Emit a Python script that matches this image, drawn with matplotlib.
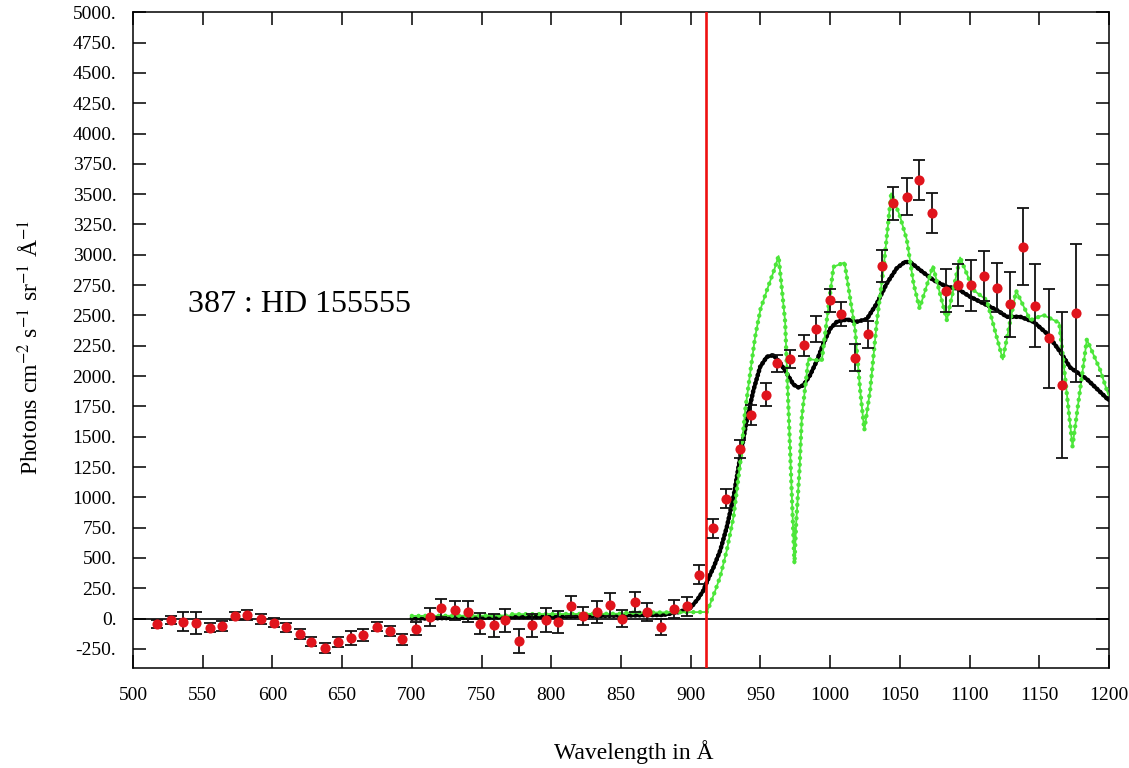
import numpy as np
import matplotlib
matplotlib.use("Agg")
import matplotlib.pyplot as plt
from matplotlib.ticker import FuncFormatter, MultipleLocator

plt.rcParams['font.family'] = ['Liberation Serif', 'DejaVu Serif']
plt.rcParams['mathtext.fontset'] = 'stix'

# observed fluxes (red points with error bars)
obs_wave = [517, 527, 536, 545, 555, 564, 573, 582, 592, 601, 610, 620, 628, 638, 647,
            656, 665, 675, 684, 693, 703, 713, 721, 731, 740, 749, 759, 767, 777, 786,
            796, 805, 814, 823, 833, 842, 851, 860, 869, 879, 888, 897, 906, 916, 925,
            935, 943, 954, 962, 971, 981, 990, 1000, 1008, 1018, 1027, 1037, 1045, 1055,
            1064, 1073, 1083, 1092, 1101, 1110, 1120, 1129, 1138, 1147, 1157, 1166, 1176]
obs_flux = [-47, -14, -25, -36, -74, -60, 19, 33, -3, -33, -71, -129, -192, -239, -192,
            -159, -135, -69, -102, -170, -83, 14, 91, 69, 55, -41, -55, -14, -184, -55,
            -14, -28, 102, 22, 55, 115, 0, 135, 55, -69, 77, 100, 360, 745, 990,
            1397, 1678, 1848, 2104, 2140, 2255, 2387, 2626, 2511, 2151, 2343, 2907, 3424, 3479,
            3617, 3347, 2703, 2750, 2750, 2827, 2728, 2591, 3066, 2580, 2310, 1925, 2522]
obs_err = [34, 33, 78, 89, 34, 40, 33, 41, 38, 38, 38, 40, 38, 41, 41,
           55, 47, 37, 45, 45, 52, 74, 74, 78, 87, 85, 96, 96, 96, 96,
           100, 89, 82, 72, 93, 92, 73, 84, 76, 69, 74, 76, 78, 78, 77,
           76, 85, 96, 73, 73, 86, 106, 96, 100, 110, 110, 130, 139, 152,
           162, 165, 176, 176, 210, 204, 203, 267, 319, 344, 411, 600, 570]

# model spectrum (green)
mod_wave = [700, 770, 772, 850, 855, 911.5, 913.9, 917.5, 921.1, 925.9, 930.7, 935.5,
            939.1, 942.6, 946.2, 950, 955, 960, 963, 967.7, 974.4, 975.6, 978, 979.7,
            984.4, 994, 997.6, 1002.4, 1010.3, 1017.9, 1021.5, 1024.5, 1028.7, 1033.5,
            1038.2, 1043.8, 1050.2, 1055, 1059.8, 1064.1, 1073.7, 1083.7, 1093.2, 1102.8,
            1112.3, 1123.8, 1133.4, 1143.5, 1153, 1164.3, 1173.8, 1184.1, 1193.7, 1199.6]
mod_flux = [22, 25, 36, 40, 48, 54, 119, 228, 344, 564, 839, 1279,
            1719, 2021, 2324, 2550, 2720, 2880, 2990, 2450, 454, 784, 1224, 1664,
            2140, 2126, 2461, 2901, 2937, 2379, 1884, 1554, 1884, 2450,
            2880, 3507, 3314, 3122, 2764, 2558, 2907, 2461, 2978, 2709,
            2626, 2137, 2703, 2461, 2503, 2439, 1420, 2302, 2049, 1843]

# smoothed model (black)
smo_wave = [700, 760, 820, 880, 892, 900, 905, 909, 913, 916.3, 921.1, 925.9, 930.7,
            935.5, 940.2, 945, 949.8, 954.6, 959.3, 964.1, 968.9, 973.7, 977.3, 980.8,
            985.6, 990.4, 995.2, 1000, 1004.8, 1012, 1019.1, 1026.3, 1033.5, 1040.6,
            1047.8, 1053.8, 1058, 1064.6, 1074.1, 1083.7, 1090.9, 1100.4, 1110, 1119.6,
            1126.7, 1136.3, 1145.8, 1155.4, 1165, 1172.2, 1184.1, 1198.5, 1200]
smo_flux = [0, 10, 20, 30, 55, 90, 160, 230, 340, 420, 560, 756, 1004,
            1334, 1636, 1884, 2076, 2159, 2173, 2110, 2021, 1930, 1906, 1925,
            2007, 2125, 2269, 2390, 2448, 2467, 2448, 2470, 2600, 2764,
            2890, 2943, 2935, 2874, 2791, 2736, 2723, 2654, 2599, 2544,
            2489, 2489, 2448, 2351, 2200, 2070, 1975, 1815, 1800]

lyman_limit = 911
star_label = '387 : HD 155555'

fig = plt.figure(figsize=(11.29, 7.68), dpi=100)
ax = fig.add_axes([0.1178, 0.1306, 0.8645, 0.8534])

ax.axhline(0, color='black', lw=1.2, zorder=1)

# smoothed model: thick beaded black line
ax.plot(smo_wave, smo_flux, color='black', lw=2.6, solid_capstyle='round', zorder=2)
ax.plot(smo_wave, smo_flux, color='black', lw=3.4, ls=(0, (0.01, 0.9)),
        dash_capstyle='round', zorder=2)

# model: thin green line with dots along it
green = '#4ce63a'
ax.plot(mod_wave, mod_flux, color=green, lw=1.3, zorder=3)
ax.plot(mod_wave, mod_flux, color=green, lw=3.2, ls=(0, (0.01, 1.5)),
        dash_capstyle='round', zorder=3)

ax.axvline(lyman_limit, color='#ee1111', lw=1.9, zorder=4)

ax.errorbar(obs_wave, obs_flux, yerr=obs_err, fmt='none', ecolor='#111111',
            elinewidth=1.3, capsize=4, capthick=1.3, zorder=5)
ax.plot(obs_wave, obs_flux, 'o', color='#e0141c', markersize=7.3, markeredgewidth=0, zorder=6)

ax.text(539.5, 2593, star_label, fontsize=23, va='center', ha='left')

ax.set_xlim(500, 1200)
ax.set_ylim(-405, 5000)
ax.xaxis.set_major_locator(MultipleLocator(50))
ax.set_yticks(np.arange(-250, 5001, 250))
ax.yaxis.set_major_formatter(FuncFormatter(lambda v, p: f"{int(round(v))}."))
ax.tick_params(direction='in', length=9.5, width=1.1, top=True, right=True,
               labelsize=14, pad=12)
ax.tick_params(axis='x', pad=14)
for s in ax.spines.values():
    s.set_linewidth(1.1)

fig.text(30 / 1129, 1 - 347 / 768,
         r'Photons cm$^{-2}$ s$^{-1}$ sr$^{-1}$ Å$^{-1}$',
         rotation=90, ha='center', va='center', fontsize=17)
fig.text(634 / 1129, 1 - 752 / 768, 'Wavelength in Å', ha='center', va='center', fontsize=17)

plt.savefig('out.png', dpi=100)
